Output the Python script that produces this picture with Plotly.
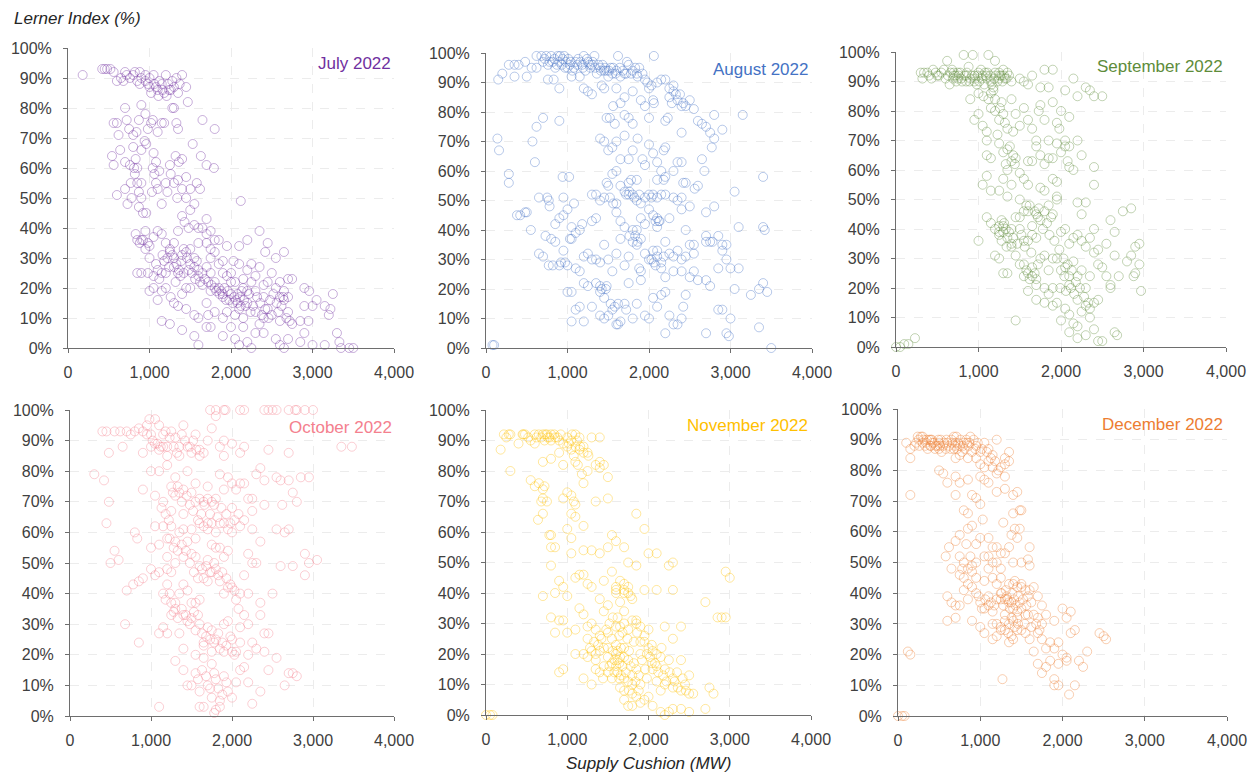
import plotly.graph_objects as go

W, H = 1255, 774

months = ["July 2022", "August 2022", "September 2022",
          "October 2022", "November 2022", "December 2022"]
colors = ["#7030A0", "#4472C4", "#5E8C3A", "#F4808E", "#FFC000", "#ED7D31"]
x_ticks = [0, 1000, 2000, 3000, 4000]
x_tick_text = ["0", "1,000", "2,000", "3,000", "4,000"]
y_ticks = [0, 10, 20, 30, 40, 50, 60, 70, 80, 90, 100]
y_tick_text = ["0%", "10%", "20%", "30%", "40%", "50%", "60%", "70%", "80%", "90%", "100%"]

# (supply cushion MW, Lerner index %)
july_pts = [
    (180,91),(420,93),(450,93),(480,93),(520,93),(560,92),(600,89),(650,90),(700,92),(720,91),(760,90),(800,91),
    (850,89),(880,92),(900,90),(950,89),(980,88),(1000,87),(1020,85),(1050,91),(1080,87),(1100,86),(1120,89),
    (1150,88),(1180,85),(1200,91),(1230,88),(1260,86),(1300,87),(1330,90),(1370,88),(1400,91),(1450,87),(1470,82),
    (560,75),(600,75),(620,71),(700,80),(720,76),(750,73),(800,71),(840,72),(870,76),(900,81),(950,78),(980,73),
    (1020,75),(1040,76),(1100,72),(1150,75),(1180,75),(1280,80),(1300,80),(1330,75),(1350,73),(1650,76),(1800,73),
    (540,64),(560,61),(640,66),(700,62),(760,61),(800,67),(830,63),(850,60),(900,66),(940,69),(960,68),(1040,60),
    (1080,62),(1120,59),(1320,64),(1360,62),(1400,63),(1530,68),(1630,64),(1700,61),(1790,60),(1250,61),(1050,65),
    (600,51),(700,53),(730,48),(780,50),(820,58),(850,55),(870,52),(900,50),(920,45),(960,45),(1030,52),(1080,55),
    (1100,53),(1150,48),(1200,55),(1260,58),(1300,55),(1340,50),(1400,53),(1450,57),(1500,53),(1580,55),(1620,53),
    (2120,49),(830,38),(850,36),(880,35),(900,36),(950,39),(980,35),(1000,34),(1050,37),(1100,39),(1150,38),
    (1200,35),(1250,33),(1300,35),(1350,39),(1400,44),(1430,42),(1480,40),(1500,46),(1550,41),(1600,40),(1650,40),
    (1700,38),(1750,39),(1800,36),(1850,36),(1950,34),(2100,34),(2200,36),(2350,39),(2450,35),(2550,30),(2650,32),
    (2420,32),(1450,32),(1500,33),(1550,30),(850,25),(900,25),(980,25),(1050,24),(1080,28),(1100,26),(1150,25),
    (1180,29),(1220,30),(1250,32),(1280,31),(1300,27),(1320,22),(1350,25),(1380,24),(1400,31),(1420,25),(1450,20),
    (1500,28),(1550,27),(1600,26),(1620,22),(1650,21),(1700,27),(1750,25),(1800,22),(1850,20),(1880,19),(1900,18),
    (1950,24),(2000,25),(2030,29),(2050,22),(2100,28),(2150,20),(2200,19),(2250,22),(2300,24),(2350,27),(2400,21),
    (2500,25),(2600,17),(2700,23),(2750,23),(2550,20),(2650,16),(1980,16),(2020,15),(2080,18),(2120,14),(1750,19),
    (1800,20),(2700,17),(2900,20),(2960,19),(1050,20),(1100,16),(1150,19),(1200,20),(1260,17),(1300,15),(1350,14),
    (1400,18),(1500,20),(1450,13),(1550,11),(1600,10),(1700,15),(1720,11),(1800,12),(1900,10),(1950,12),(2050,11),
    (2100,13),(2150,10),(2200,15),(2300,12),(2400,10),(2450,13),(2500,11),(2600,9),(2700,12),(2750,8),(2850,9),
    (2900,14),(3000,14),(3050,16),(3150,14),(3200,11),(3220,13),(3250,18),(1150,9),(1250,8),(1000,19),(2950,9),
    (2350,8),(1400,6),(1550,4),(1600,1),(1700,7),(1750,7),(1900,4),(2000,7),(2050,3),(2150,7),(2200,2),(2250,0),
    (2300,5),(2400,5),(2550,3),(2600,1),(2650,0),(2700,3),(2900,5),(3000,1),(3150,1),(3300,5),(3330,2),(3350,0),
    (3450,0),(3500,0),(2850,2),(2100,1),
    (1600,24),(1650,25),(1680,23),(1720,22),(1760,21),(1820,19),(1860,18),(1900,17),(1920,20),(1940,16),(1960,19),
    (2000,18),(2040,17),(2060,16),(2080,15),(2110,17),(2130,19),(2160,16),(2180,14),(2220,18),(2240,12),(2270,14),
    (2320,17),(2360,15),(2380,11),(2420,13),(2460,10),(2480,16),(2520,18),(2560,15),(2580,12),(2620,14),(2640,17),
    (2680,10),(2720,9),(1300,30),(1330,28),(1360,26),(1390,29),(1420,33),(1460,30),(1480,26),(1520,25),(1560,23),
    (1580,29),(1240,27),(1200,25),(1160,31),(1120,23),(1000,30),(950,33),(920,36),(1700,35),(1750,33),(1850,28),
    (1900,25),(2200,26),(2250,28),(2450,22),(2600,22),(2650,19),(1000,90),(1060,88),(1110,84),(1240,86),(1280,89),
    (950,91),(820,92),(680,89),(880,88),(1160,86),(1210,84),(1350,85),(770,55),(810,60),(870,47),(900,55),
    (1060,58),(1220,52),(1350,56),(1450,50),(1550,48),(1700,43),(1600,35),(1750,30),(1800,32),(1900,29),(2000,22),
    (2150,23),(2300,19),(2400,17),
]

august_pts = [
    (150,91),(200,93),(280,96),(350,96),(400,96),(480,97),(560,95),(620,99),(680,99),(720,98),(760,96),(800,99),
    (820,97),(850,95),(880,99),(900,97),(930,96),(960,99),(980,97),(1000,95),(1030,96),(1060,94),(1100,97),
    (1130,98),(1180,96),(1200,99),(1220,94),(1250,97),(1280,95),(1300,96),(1330,99),(1360,93),(1400,95),(1430,96),
    (1450,94),(1480,94),(1500,92),(1530,95),(1550,93),(1600,94),(1620,99),(1650,92),(1700,93),(1730,97),(1750,96),
    (1800,94),(1850,93),(1880,95),(1920,93),(2060,99),(1050,92),(1150,92),(760,91),(830,91),(900,88),(1200,88),
    (1300,86),(1420,89),(1450,88),(1250,87),(350,92),(500,92),(620,95),
    (1600,88),(1700,85),(1800,87),(1650,83),(1900,84),(1950,82),(2000,88),(2050,84),(2100,90),(2150,91),(2200,91),
    (2300,87),(2330,86),(2350,84),(2400,82),(2450,82),(2500,84),(2550,81),(2300,89),(2250,85),(2060,83),(1560,82),
    (1480,78),(1520,78),(1580,76),(1700,79),(1750,78),(1800,76),(2000,78),(2200,77),(2230,78),(2800,79),(3150,79),
    (2900,74),(2600,77),(2650,76),(2700,75),(2750,73),(2800,71),(2770,68),(2400,73),(700,78),(620,75),(900,77),
    (570,70),(140,71),(160,67),(280,59),(280,56),(600,63),
    (1400,71),(1450,70),(1600,70),(1700,72),(1860,71),(1800,67),(1920,64),(1950,62),(2000,69),(2050,66),(2100,63),
    (2200,68),(2180,67),(1750,64),(1650,64),(1550,68),(1500,67),(2650,64),(2680,60),(2350,63),(2400,63),(2300,60),
    (2200,58),(2150,60),(2100,57),(2180,57),(1750,56),(1780,57),(1650,55),(1600,60),(1550,59),(1480,56),(1500,55),
    (940,58),(1020,58),(2450,56),(2600,55),(2560,54),(3400,58),
    (650,51),(750,51),(770,50),(950,51),(1000,47),(1080,49),(1300,52),(1350,52),(1400,50),(1450,51),(1520,51),
    (1560,49),(1600,49),(1700,53),(1750,52),(1800,52),(1850,50),(1900,49),(1950,51),(2000,52),(2050,52),(2100,51),
    (2150,52),(2200,52),(2300,51),(2350,50),(2400,51),(2420,56),(2500,48),(2700,46),(2800,48),(3050,53),(380,45),
    (420,45),(480,46),(500,46),(550,40),(780,48),(850,42),(900,44),(950,45),(1050,41),(1100,39),(1180,42),
    (1150,40),(1300,43),(1350,44),(1600,46),(1650,43),(1700,41),(1800,40),(1850,40),(1900,44),(1950,42),(2000,47),
    (2050,45),(2120,43),(2100,41),(2250,44),(2400,47),(2450,40),(2550,35),(2700,38),(2750,36),(2850,38),(2900,35),
    (2950,35),(3100,41),(3400,41),(3420,40),
    (650,32),(700,31),(730,38),(770,28),(800,37),(820,28),(850,36),(900,28),(920,29),(950,33),(970,29),(1000,28),
    (1030,37),(1050,37),(1100,27),(1150,26),(1200,31),(1250,32),(1300,30),(1350,30),(1400,29),(1450,35),(1500,30),
    (1550,26),(1600,32),(1650,37),(1700,28),(1750,31),(1800,36),(1850,35),(1880,27),(1900,26),(1950,32),(2000,30),
    (2050,33),(2100,31),(2150,29),(2200,36),(2250,32),(2300,31),(2350,33),(2400,30),(2450,31),(2500,35),(2550,32),
    (2700,36),(2780,36),(2900,33),(2950,30),(3000,27),(3100,27),(2850,27),(2400,26),(2300,26),(2200,24),(2150,27),
    (1000,19),(1050,19),(1100,13),(1150,14),(1200,22),(1250,21),(1300,14),(1350,22),(1400,19),(1450,17),(1480,21),
    (1500,11),(1550,13),(1600,8),(1650,9),(1700,15),(1720,13),(1750,22),(1800,10),(1850,15),(1900,23),(1950,11),
    (2000,10),(2050,17),(2100,14),(2150,18),(2200,19),(2250,11),(2300,8),(2350,8),(2400,10),(2420,14),(2450,18),
    (2500,24),(2550,26),(2600,23),(2700,23),(2750,21),(2850,13),(2900,13),(2950,5),(2980,4),(3000,10),(3050,20),
    (3250,18),(3350,20),(3400,22),(3450,19),(3350,7),(3500,0),(2700,5),(2200,5),(1620,8),(1050,9),(1200,9),
    (80,1),(100,1),(1400,11),(1450,10),
    (700,97),(740,99),(780,97),(840,98),(870,96),(910,99),(940,98),(970,95),(1010,98),(1040,97),(1080,95),
    (1120,96),(1160,97),(1190,95),(1240,98),(1270,96),(1310,97),(1340,95),(1380,96),(1410,94),(1460,95),(1510,94),
    (1560,95),(1590,93),(1640,95),(1680,94),(1720,93),(1780,93),(1830,95),(1860,92),(1950,91),(1980,90),(2030,89),
    (2250,88),(2280,83),(2380,86),(2420,83),(1850,57),(1720,52),(1760,53),(1820,51),(1880,52),(2030,51),(2080,43),
    (2100,44),(2130,43),(2030,30),(2060,29),(2080,28),(2100,33),(2180,31),(1760,38),(1830,38),(1860,36),(1900,37),
    (1400,21),(1420,20),(1470,20),(1530,15),(1580,14),(1620,15),
]

september_pts = [
    (300,93),(320,91),(380,93),(450,94),(500,92),(550,93),(600,91),(620,97),(650,89),(680,94),(700,93),(720,92),
    (750,91),(780,93),(800,90),(820,99),(850,92),(880,95),(900,91),(930,99),(950,90),(980,89),(1000,93),(1030,94),
    (1050,92),(1080,93),(1100,91),(1120,99),(1150,90),(1180,88),(1200,93),(1230,90),(1250,91),(1280,92),(1300,94),
    (1320,91),(1350,93),(1400,90),(1200,97),(1500,91),(1550,90),(1600,89),(1650,92),(1750,88),(1800,94),(1850,88),
    (1900,94),(2050,87),(2150,91),(2200,85),(2300,88),(2350,87),(2400,85),(2500,85),(1180,87),(1120,84),(900,84),
    (1000,86),(1060,85),(700,92),(750,93),(850,90),(950,92),(1250,93),
    (950,77),(1000,79),(1050,75),(1100,73),(1150,81),(1200,80),(1230,72),(1250,77),(1280,83),(1300,79),(1350,74),
    (1400,84),(1420,73),(1450,79),(1500,75),(1550,81),(1600,77),(1650,74),(1700,70),(1730,80),(1750,82),(1800,77),
    (1850,70),(1900,83),(1950,76),(1980,74),(2000,80),(2050,70),(2100,68),(2100,78),(2200,70),(1100,70),
    (1100,65),(1150,64),(1250,69),(1300,66),(1330,62),(1350,67),(1400,63),(1450,64),(1500,59),(1550,57),(1600,63),
    (1650,63),(1700,68),(1750,65),(1800,62),(1850,64),(1900,64),(1950,69),(2000,66),(2050,68),(2080,63),(2100,61),
    (2150,60),(2250,65),(2400,61),(2400,55),(1100,58),(1050,55),(1150,53),(1250,53),(1300,57),(1350,51),(1400,55),
    (1600,55),(1750,54),(1800,53),(1900,57),(1950,56),(1950,51),
    (1100,44),(1150,42),(1200,40),(1250,39),(1280,43),(1300,41),(1330,40),(1350,37),(1400,35),(1450,44),(1500,40),
    (1550,36),(1580,48),(1600,46),(1650,41),(1700,45),(1730,47),(1750,43),(1800,46),(1850,48),(1880,44),(1900,45),
    (1950,50),(2000,39),(2050,40),(2100,35),(2150,37),(2200,49),(2250,45),(2300,49),(2200,38),(2250,36),(2300,34),
    (2350,37),(2400,40),(2450,33),(2550,35),(2600,43),(2650,39),(2750,46),(2850,47),(2900,34),(2950,35),(1000,36),
    (1400,40),(1500,44),(1650,38),(1700,37),(1250,41),(1300,39),
    (1200,31),(1250,30),(1300,25),(1350,25),(1400,34),(1450,31),(1500,28),(1550,24),(1600,25),(1650,24),(1700,23),
    (1750,30),(1800,31),(1850,26),(1900,30),(1950,30),(2000,26),(2050,27),(2100,24),(2150,29),(2200,24),(2250,26),
    (2300,20),(2350,24),(2400,32),(2450,28),(2500,27),(2550,24),(2600,21),(2650,31),(2700,24),(2800,29),(2850,31),
    (2880,24),(2900,25),(2950,28),(2970,19),(2600,20),(1900,20),(1600,19),(1800,20),(1700,21),
    (1450,9),(1700,16),(1800,15),(1850,18),(1900,14),(1950,15),(2000,9),(2050,13),(2100,11),(2150,8),(2200,16),
    (2250,12),(2300,14),(2350,13),(2400,15),(2450,16),(2100,5),(2200,7),(2300,4),(2350,10),(2400,6),(2450,2),
    (2500,2),(2650,5),(2680,4),(2200,3),(0,0),(50,0),(100,1),(150,1),(230,3),
    (340,93),(400,92),(430,91),(480,93),(520,92),(580,94),(630,92),(660,93),(690,91),(730,90),(760,92),(790,91),
    (830,92),(860,93),(890,90),(920,92),(960,91),(990,92),(1010,90),(1040,91),(1070,89),(1090,92),(1110,93),
    (1140,92),(1160,89),(1190,91),(1210,92),(1260,92),(1290,90),(1310,92),(1340,91),(1370,92),(1150,86),(1200,84),
    (1260,81),(1320,76),(1380,68),(1420,65),(1440,62),(1350,60),(1500,50),(1550,46),(1620,48),(1680,46),(1720,44),
    (1780,40),(1830,42),(1860,38),(1920,36),(1980,33),(2030,30),(2080,28),(2130,26),(2180,22),(2230,20),(2280,17),
    (2330,15),(1550,28),(1580,26),(1620,23),(1650,27),(1680,25),(1720,28),(1250,38),(1280,36),(1310,42),(1340,34),
    (1370,39),(1420,37),(1470,35),(1520,38),(1560,34),(1600,36),(1640,32),(1990,20),(2060,19),(2120,20),(2160,18),
    (2040,24),(2100,21),
]

october_pts = [
    (1730,100),(1800,100),(1900,100),(1920,100),(2100,100),(2150,100),(2400,100),(2450,100),(2500,100),(2550,100),
    (2700,100),(2780,100),(2800,100),(2900,100),(3000,100),
    (400,93),(450,93),(550,93),(620,93),(700,93),(750,92),(800,93),(850,94),(900,93),(950,95),(980,97),(1000,92),
    (1050,97),(1100,95),(1150,88),(1150,92),(1200,88),(1250,93),(1300,91),(1350,88),(1400,95),(1450,88),(1550,92),
    (1600,87),(1650,86),(1700,90),(1750,94),(1800,98),(1850,88),(1900,90),(2000,89),(2150,88),(3350,88),(3480,88),
    (480,86),(650,88),(900,86),(1000,88),(1050,89),(1100,87),(1200,85),(1350,85),(1500,86),(1600,85),(1900,85),
    (2100,86),(2450,87),(2700,86),
    (300,79),(420,77),(900,74),(1000,80),(1050,72),(1100,80),(1200,82),(1250,75),(1300,78),(1350,73),(1400,74),
    (1450,80),(1500,73),(1550,76),(1600,71),(1650,70),(1700,75),(1750,70),(1800,71),(1850,79),(1900,74),(1950,78),
    (2000,76),(2050,74),(2100,76),(2150,76),(2200,71),(2250,71),(2300,79),(2350,81),(2400,77),(2550,78),(2600,77),
    (2700,77),(2750,73),(2800,70),(2850,78),(2950,78),(1150,70),(1250,67),(1300,72),(1400,66),(1550,70),(1700,71),
    (2000,68),(2250,67),(2400,69),(2620,69),(480,70),
    (450,63),(800,60),(830,58),(1050,62),(1150,62),(1200,58),(1250,62),(1300,57),(1350,60),(1400,61),(1450,57),
    (1500,61),(1550,58),(1600,63),(1650,62),(1700,61),(1750,63),(1800,60),(1850,63),(1900,63),(1950,61),(2000,60),
    (2100,62),(2150,64),(2250,61),(2350,57),(2550,61),(2650,60),(2700,61),(550,54),(600,51),(500,50),(1000,55),
    (1100,56),(1200,52),(1300,50),(1400,52),(1500,53),(1550,52),(1600,49),(1700,51),(1750,56),(1800,55),(1850,55),
    (1900,52),(1950,54),(2200,53),(2250,50),(2300,50),(2600,49),(2750,49),(2900,53),(2950,50),(3050,51),
    (700,41),(780,43),(850,44),(900,45),(1000,48),(1050,46),(1100,47),(1150,40),(1200,43),(1250,37),(1300,37),
    (1350,40),(1400,43),(1450,41),(1500,37),(1550,37),(1600,38),(1650,45),(1700,44),(1750,47),(1800,48),(1850,44),
    (1900,40),(1950,42),(2000,42),(2050,38),(2100,40),(2150,46),(2200,40),(2350,37),(2500,40),(2900,46),(1200,48),
    (1250,47),
    (680,30),(850,24),(1100,27),(1150,29),(1200,27),(1250,33),(1300,35),(1350,27),(1400,33),(1450,31),(1500,32),
    (1550,28),(1600,30),(1650,24),(1700,29),(1750,28),(1800,25),(1850,22),(1900,30),(1950,31),(2000,21),(2050,21),
    (2100,29),(2150,33),(2200,30),(2250,24),(2300,22),(2350,33),(2400,27),(2450,27),(2400,21),(1400,22),(1550,20),
    (1650,23),(1750,21),(1900,21),(2000,25),(2100,24),(2200,20),
    (1300,18),(1400,15),(1450,10),(1500,10),(1550,14),(1600,8),(1650,3),(1700,10),(1750,6),(1800,12),(1850,5),
    (1900,13),(1950,8),(2000,6),(2050,11),(2100,15),(2150,16),(2200,11),(2250,4),(2350,8),(2450,15),(2550,19),
    (2650,10),(2700,14),(2750,14),(2800,13),(1100,3),(1600,3),(1800,2),(1850,3),(1780,1),(1750,17),(1650,19),
    (950,92),(1020,90),(1080,89),(1120,88),(1180,93),(1230,91),(1280,88),(1320,86),(1380,92),(1420,90),(1480,88),
    (1520,90),(1560,87),(1130,68),(1180,66),(1220,64),(1270,73),(1330,75),(1380,70),(1440,72),(1480,69),(1520,67),
    (1580,64),(1620,66),(1660,69),(1700,63),(1730,66),(1780,69),(1820,65),(1870,68),(1930,66),(1980,63),(2030,64),
    (2080,66),(1230,58),(1280,55),(1330,54),(1380,56),(1430,54),(1480,50),(1530,47),(1580,45),(1630,48),(1680,49),
    (1730,47),(1780,50),(1830,46),(1880,47),(1930,45),(1980,43),(2030,41),(2080,35),(1180,38),(1230,40),(1280,34),
    (1330,32),(1380,35),(1430,33),(1480,30),(1530,34),(1580,33),(1630,27),(1680,26),(1730,25),(1780,24),(1830,27),
    (1880,24),(1930,23),(1980,26),(2030,20),(1580,12),(1630,15),(1680,13),(1730,9),(1780,14),(1830,9),(1880,7),
    (1930,11),
]

november_pts = [
    (180,87),(220,92),(250,91),(280,92),(300,92),(400,89),(450,92),(480,92),(520,91),(550,90),(600,89),(650,92),
    (700,92),(730,92),(750,92),(780,91),(800,90),(850,91),(900,90),(950,89),(1000,91),(1050,90),(1100,92),
    (1150,91),(1200,88),(1250,86),(1300,91),(1400,91),(1050,87),(1080,85),(1100,88),(1150,87),(1200,86),(1100,83),
    (1130,82),(700,83),(800,84),(900,86),(950,82),(1350,82),(1400,83),(1450,82),(1500,78),(300,80),(1180,79),
    (1200,76),(1250,80),(1400,81),(460,92),(760,91),(1000,88),
    (550,77),(600,75),(650,76),(700,74),(720,75),(750,70),(700,71),(680,70),(700,66),(640,64),(950,71),(1000,73),
    (1050,72),(1080,70),(1100,69),(1050,66),(1100,65),(1000,61),(1200,62),(1350,70),(1500,71),(1850,66),(1950,61),
    (780,59),(800,59),(800,55),(850,55),(800,49),(1050,53),(1050,58),(1200,54),(1300,54),(1400,53),(1500,55),
    (1550,59),(1600,57),(1700,55),(1750,50),(1850,49),(2000,53),(2100,53),(2250,49),(2300,50),
    (700,39),(850,40),(900,44),(950,42),(1000,39),(1100,45),(1150,46),(1200,46),(1250,43),(1300,42),(1400,38),
    (1450,44),(1500,36),(1550,47),(1600,42),(1650,44),(1700,40),(1750,42),(1800,38),(1950,41),(2100,41),(2300,41),
    (2950,47),(3000,45),(2700,37),(1600,41),(1700,43),(1750,40),
    (800,32),(850,27),(900,31),(950,31),(1000,27),(1100,28),(1150,35),(1200,33),(1250,29),(1300,30),(1350,28),
    (1400,26),(1450,34),(1500,27),(1550,25),(1600,29),(1650,29),(1700,34),(1750,28),(1800,31),(1850,30),(1900,29),
    (1950,26),(2000,28),(2200,29),(2400,29),(2300,25),(2850,32),(2900,32),(2950,32),
    (1200,20),(1250,19),(1300,21),(1350,20),(1400,21),(1450,16),(1500,22),(1550,17),(1600,20),(1620,14),(1650,19),
    (1700,22),(1750,18),(1800,13),(1850,15),(1900,20),(1950,24),(2000,22),(2050,15),(2100,20),(2150,19),(2200,15),
    (2250,18),(2300,12),(2350,14),(2400,18),(2450,10),(2500,13),(1350,15),(1400,14),(1500,14),(1550,12),(1600,16),
    (1700,12),(1750,11),(1800,10),(1900,10),(2100,11),(2200,10),(2300,9),(2400,8),(2500,7),(2550,7),(900,14),
    (950,15),(1100,20),(1200,12),(1300,10),(1580,18),(1620,21),(1640,17),(1660,13),(2050,21),(2100,16),
    (1650,9),(1700,8),(1800,7),(1850,6),(1900,4),(1950,5),(2000,6),(2050,3),(2150,1),(2200,0),(2250,1),(2300,2),
    (2400,2),(2500,1),(2700,2),(2750,9),(2800,7),(1750,3),(0,0),(50,0),(80,0),
    (1450,22),(1500,19),(1520,16),(1560,21),(1580,14),(1600,23),(1620,18),(1640,12),(1660,22),(1680,16),(1700,19),
    (1720,14),(1760,21),(1780,16),(1820,17),(1840,11),(1880,13),(1920,18),(1960,15),(1980,12),(2020,19),(2040,23),
    (2080,17),(2120,14),(2160,22),(2180,13),(2220,11),(2260,14),(2320,11),(2360,9),(2420,12),(2460,8),(1420,25),
    (1380,23),(1330,24),(1280,22),(1250,25),(1350,18),(1440,12),(1480,28),(1520,30),(1560,32),(1640,26),(1680,27),
    (1740,25),(1820,24),(1860,27),(1900,24),(1980,20),(2040,17),(2150,8),(1760,8),(1880,8),(1700,5),(1800,3),
    (600,92),(620,91),(680,91),(720,90),(800,92),(840,92),(880,91),(920,92),(1020,89),(1060,92),(1120,90),
    (1160,88),(1260,85),(1600,40),(1650,37),(1700,41),(1780,39),(1850,31),(1620,32),(1700,30),
]

december_pts = [
    (100,89),(150,87),(200,88),(250,90),(280,91),(300,89),(330,88),(350,90),(380,90),(400,88),(420,89),(450,87),
    (480,88),(500,89),(520,90),(550,88),(580,87),(600,89),(650,90),(680,91),(700,89),(720,87),(750,88),(780,86),
    (800,89),(830,90),(860,88),(880,91),(900,86),(950,88),(1000,86),(1050,89),(1100,87),(1150,85),(1300,84),
    (1350,86),(1200,90),(680,87),(700,84),(750,85),(300,91),(400,90),(500,87),(150,84),(850,84),(950,84),
    (1000,82),(1050,81),(1100,83),(1150,81),(1300,82),(1250,81),(1350,83),(1000,78),(1050,77),(1100,76),(1200,79),
    (1300,78),(1200,73),(1300,74),(1400,72),(1450,73),(850,77),(500,80),(550,79),(600,76),(700,78),(750,76),
    (150,72),(700,72),(900,72),(950,71),(1000,69),(1480,67),(1500,67),(1400,66),(800,67),(850,66),(900,62),
    (1030,64),(1280,63),(1420,61),(1480,61),(1380,59),(850,61),(750,59),(120,21),(150,20),
    (580,52),(620,55),(650,48),(700,57),(750,52),(800,50),(850,48),(900,49),(950,56),(1000,58),(1050,52),(1100,58),
    (1150,55),(1200,50),(1250,48),(1300,53),(1350,55),(1400,50),(1450,58),(1500,50),(1600,55),(1580,51),(1600,49),
    (1100,48),(950,50),(750,46),(800,45),(900,47),
    (600,39),(650,37),(700,36),(750,36),(800,41),(850,38),(900,42),(950,40),(1000,37),(1050,35),(1100,36),
    (1150,34),(1200,38),(1250,40),(1300,38),(1350,43),(1400,43),(1450,42),(1500,42),(1550,41),(1600,41),(1650,42),
    (1700,39),(1750,36),(1800,33),(1350,37),(1300,33),(1400,35),(1450,32),(1500,35),(1550,33),(1650,33),(1700,32),
    (1750,30),(1900,31),(2000,35),(2050,32),(2100,34),(1150,30),(1250,29),(1300,31),(1350,30),(1400,31),(1450,34),
    (600,31),(700,32),(900,31),(1000,29),(1200,30),(1250,38),(1320,39),(1380,37),(1420,44),(1500,43),
    (1050,27),(1150,25),(1200,26),(1250,28),(1350,24),(1380,26),(1400,25),(1450,28),(1550,27),(1600,25),(1650,21),
    (1700,27),(1750,25),(1800,22),(1850,24),(1900,22),(1950,24),(2000,20),(2050,18),(2100,27),(2150,28),(2300,21),
    (2450,27),(2500,26),(2530,25),(1700,17),(1750,14),(1800,16),(1850,18),(2050,19),(2200,18),(2250,16),(1950,17),
    (1270,12),(1900,12),(1900,10),(1950,10),(2080,7),(2150,10),(0,0),(50,0),(80,0),
    (220,89),(240,91),(260,88),(310,90),(340,89),(360,87),(390,88),(410,90),(440,89),(460,88),(490,90),(510,88),
    (530,86),(560,89),(590,90),(620,88),(640,87),(660,89),(690,88),(710,91),(730,89),(760,90),(790,88),(810,87),
    (840,89),(870,89),(920,90),(940,87),(970,89),(1020,87),(1080,86),(1130,84),(1180,83),(1220,80),(1260,40),
    (1280,36),(1310,41),(1330,38),(1360,35),(1390,40),(1410,38),(1430,36),(1460,39),(1480,37),(1520,38),(1560,36),
    (1580,39),(1620,37),(1300,28),(1340,27),(1380,32),(1420,29),(1460,30),(1500,28),(1540,30),(1580,33),(1620,29),
    (1680,30),(1720,28),(1100,39),(1130,37),(1170,36),(1060,38),(1020,35),(980,39),(1050,44),(1150,45),(1200,43),
    (1250,45),(1100,52),(1150,50),(1200,55),(1250,53),(950,45),(850,43),(880,52),(830,56),(780,48),
]

series = [july_pts, august_pts, september_pts, october_pts, november_pts, december_pts]

# panel pixel boxes (left, right, top, bottom)
boxes = [
    (68, 394, 48, 348), (486, 812, 53, 348), (896, 1226, 52, 347),
    (70, 394, 410, 716), (486, 811, 410, 715), (898, 1227, 409, 716),
]
label_pos = [(393, 64), (810, 69), (1225, 67), (394, 427), (810, 425), (1225, 424)]


def rgba(hex_color, a):
    h = hex_color.lstrip("#")
    r, g, b = int(h[0:2], 16), int(h[2:4], 16), int(h[4:6], 16)
    return f"rgba({r},{g},{b},{a})"


FONT = "Liberation Sans, Arial"
fig = go.Figure()
annotations = []
for i, (pts, name, col, box) in enumerate(zip(series, months, colors, boxes)):
    k = "" if i == 0 else str(i + 1)
    xs = [p[0] for p in pts]
    ys = [p[1] for p in pts]
    fig.add_trace(go.Scatter(
        x=xs, y=ys, mode="markers", name=name, showlegend=False,
        xaxis="x" + k, yaxis="y" + k, cliponaxis=False,
        marker=dict(symbol="circle-open", size=9, color=rgba(col, 0.38),
                    line=dict(width=1, color=rgba(col, 0.38))),
    ))
    l, r, t, b = box
    axis_common = dict(
        showline=True, linecolor="#6e6e6e", linewidth=1,
        ticks="outside", ticklen=4, tickcolor="#6e6e6e",
        showgrid=True, gridcolor="#ececec", griddash="dash", gridwidth=1,
        zeroline=False, tickfont=dict(family=FONT, size=16, color="#404040"),
        tickmode="array", automargin=False,
    )
    fig.update_layout(**{
        "xaxis" + k: dict(axis_common, domain=[l / W, r / W], range=[0, 4000],
                          tickvals=x_ticks, ticktext=x_tick_text, anchor="y" + k,
                          ticklabelstandoff=6),
        "yaxis" + k: dict(axis_common, domain=[1 - b / H, 1 - t / H], range=[0, 100],
                          tickvals=y_ticks, ticktext=y_tick_text, anchor="x" + k,
                          ticklabelstandoff=8),
    })
    lx, ly = label_pos[i]
    annotations.append(dict(
        text=name, x=lx / W, y=1 - ly / H, xref="paper", yref="paper",
        xanchor="right", yanchor="middle", showarrow=False,
        font=dict(family=FONT, size=17, color=col),
    ))

annotations.append(dict(
    text="<i>Lerner Index (%)</i>", x=12 / W, y=1 - 19 / H, xref="paper", yref="paper",
    xanchor="left", yanchor="middle", showarrow=False,
    font=dict(family=FONT, size=17, color="#262626"),
))
annotations.append(dict(
    text="<i>Supply Cushion (MW)</i>", x=648 / W, y=1 - 763 / H, xref="paper", yref="paper",
    xanchor="center", yanchor="middle", showarrow=False,
    font=dict(family=FONT, size=17, color="#262626"),
))

fig.update_layout(
    width=W, height=H, margin=dict(l=0, r=0, t=0, b=0, autoexpand=False),
    paper_bgcolor="white", plot_bgcolor="white",
    annotations=annotations,
)

fig.write_html("out.html")
